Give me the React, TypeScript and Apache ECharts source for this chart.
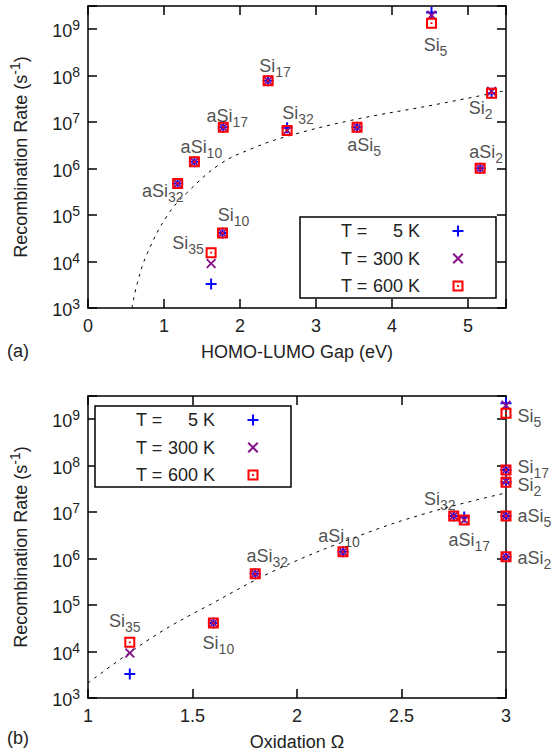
import React, { useEffect, useRef } from 'react';
import * as echarts from 'echarts';

// ---------- data ----------
const temps = ['T = 5 K', 'T = 300 K', 'T = 600 K'];

// (a) Recombination rate vs HOMO-LUMO gap
const gapNames = ['Si35', 'Si10', 'aSi32', 'aSi10', 'aSi17', 'Si17', 'Si32', 'aSi5', 'Si5', 'aSi2', 'Si2'];
const gapValues = [1.62, 1.77, 1.18, 1.40, 1.78, 2.37, 2.62, 3.54, 4.52, 5.16, 5.31];
const gapRate5K = [3.3e3, 4.1e4, 4.8e5, 1.4e6, 7.8e6, 7.8e7, 7.6e6, 7.8e6, 2.3e9, 1.02e6, 4.2e7];
const gapRate300K = [9.1e3, 4.1e4, 4.8e5, 1.4e6, 7.8e6, 7.8e7, 6.6e6, 7.8e6, 2.0e9, 1.02e6, 4.6e7];
const gapRate600K = [1.55e4, 4.1e4, 4.8e5, 1.4e6, 7.8e6, 7.8e7, 6.6e6, 7.8e6, 1.35e9, 1.02e6, 4.2e7];
const gapFitX = [0.578, 0.65, 0.78, 1.043, 1.30, 1.74, 2.17, 2.61, 3.47, 4.55, 5.5];
const gapFitRate = [1.0e3, 3.5e3, 1.5e4, 9.8e4, 3.0e5, 1.26e6, 2.75e6, 4.9e6, 1.1e7, 2.35e7, 4.8e7];

// (b) Recombination rate vs oxidation
const oxNames = ['Si35', 'Si10', 'aSi32', 'aSi10', 'Si32', 'aSi17', 'Si5', 'Si17', 'Si2', 'aSi5', 'aSi2'];
const oxValues = [1.2, 1.6, 1.8, 2.22, 2.75, 2.8, 3.0, 3.0, 3.0, 3.0, 3.0];
const oxRate5K = [3.3e3, 4.1e4, 4.7e5, 1.4e6, 8.3e6, 7.9e6, 2.2e9, 8.1e7, 4.4e7, 8.3e6, 1.1e6];
const oxRate300K = [9.3e3, 4.1e4, 4.7e5, 1.4e6, 8.3e6, 6.8e6, 2.0e9, 8.1e7, 4.6e7, 8.3e6, 1.1e6];
const oxRate600K = [1.58e4, 4.1e4, 4.7e5, 1.4e6, 8.3e6, 6.8e6, 1.35e9, 8.1e7, 4.4e7, 8.3e6, 1.1e6];
const oxFitX = [1.0, 1.313, 1.6, 1.91, 2.305, 2.62, 3.0];
const oxFitRate = [2.1e3, 2.1e4, 1.12e5, 6.0e5, 3.2e6, 9.5e6, 2.6e7];

// ---------- label layout (styling, offsets in px) ----------
const gapLabelOffsets: Record<string, number[]> = {
  Si35: [-23, -8], Si10: [11, -16], aSi32: [-15, 10], aSi10: [7, -13], aSi17: [4, -9],
  Si17: [7, -13], Si32: [11, -16], aSi5: [7, 20], Si5: [4, 24], aSi2: [6, -14], Si2: [-11, 17],
};
const oxLabelOffsets: Record<string, number[]> = {
  Si35: [-5, -19], Si10: [5, 22], aSi32: [12, -16], aSi10: [-4, -14], Si32: [-14, -15], aSi17: [5, 22],
};
const oxRightLabelDy: Record<string, number> = { Si5: 5, Si17: -1, Si2: 5, aSi5: 2, aSi2: 3 };

const FONT = 'Liberation Sans';
const TXT = '#222';

const plusPath = 'path://M4.1,0 H5.9 V4.1 H10 V5.9 H5.9 V10 H4.1 V5.9 H0 V4.1 H4.1 Z';
const crossPath = 'path://M0,1.3 L1.3,0 L5,3.7 L8.7,0 L10,1.3 L6.3,5 L10,8.7 L8.7,10 L5,6.3 L1.3,10 L0,8.7 L3.7,5 Z';
const squarePath = 'path://M0,0 H12 V12 H0 Z M2.2,2.2 V9.8 H9.8 V2.2 Z M5,5 H7 V7 H5 Z';

const subRich = {
  b: { fontSize: 18, fontFamily: FONT, color: TXT, verticalAlign: 'top' },
  s: { fontSize: 14, fontFamily: FONT, color: TXT, verticalAlign: 'bottom' },
};
const supRich = {
  b: { fontSize: 18, fontFamily: FONT, color: TXT, verticalAlign: 'bottom' },
  p: { fontSize: 14, fontFamily: FONT, color: TXT, verticalAlign: 'top' },
};

function labelText(name: string) {
  const m = name.match(/^([a-zA-Z]+)(\d+)$/);
  if (!m) return `{b|${name}}`;
  return `{b|${m[1]}}{s|${m[2]}}`;
}

function markerSeries(name: string, xs: number[], rates: number[], symbol: string, size: number, color: string, ai: number, z: number) {
  return {
    type: 'scatter',
    name,
    xAxisIndex: ai,
    yAxisIndex: ai,
    symbol,
    symbolSize: size,
    itemStyle: { color, opacity: 1 },
    z,
    data: xs.map((x, i) => [x, Math.log10(rates[i])]),
  };
}

function fitSeries(xs: number[], rates: number[], ai: number) {
  return {
    type: 'line',
    xAxisIndex: ai,
    yAxisIndex: ai,
    symbol: 'none',
    smooth: 0.4,
    silent: true,
    lineStyle: { color: '#000', width: 1, type: [3, 5] },
    data: xs.map((x, i) => [x, Math.log10(rates[i])]),
    z: 1,
  };
}

function labelSeries(names: string[], xs: number[], rates: number[], ai: number, place: (n: string) => any) {
  return {
    type: 'scatter',
    xAxisIndex: ai,
    yAxisIndex: ai,
    symbolSize: 1,
    silent: true,
    itemStyle: { color: 'rgba(0,0,0,0)' },
    z: 5,
    data: names.map((n, i) => ({
      value: [xs[i], Math.log10(rates[i])],
      label: {
        show: true,
        formatter: labelText(n),
        lineHeight: 22,
        rich: subRich,
        ...place(n),
      },
    })),
  };
}

function xAxes(gridIndex: number, min: number, max: number, interval: number, name: string) {
  const line = { show: true, onZero: false, lineStyle: { color: '#000', width: 1.5 } };
  const tick = { show: true, inside: true, length: 9, lineStyle: { color: '#000', width: 1.5 } };
  return [
    {
      type: 'value', gridIndex, position: 'bottom', min, max, interval,
      axisLine: line, axisTick: tick, splitLine: { show: false },
      axisLabel: {
        margin: 9, fontSize: 18, fontFamily: FONT, color: TXT, showMaxLabel: true,
        formatter: (v: number) => (Math.abs(v / interval - Math.round(v / interval)) < 1e-6 ? String(v) : ''),
      },
      name, nameLocation: 'middle', nameGap: 35,
      nameTextStyle: { fontSize: 18, fontFamily: FONT, color: TXT },
    },
    {
      type: 'value', gridIndex, position: 'top', min, max, interval,
      axisLine: line, axisTick: tick, splitLine: { show: false }, axisLabel: { show: false },
    },
  ];
}

function yAxes(gridIndex: number) {
  const line = { show: true, onZero: false, lineStyle: { color: '#000', width: 1.5 } };
  const tick = { show: true, inside: true, length: 9, lineStyle: { color: '#000', width: 1.5 } };
  return [
    {
      type: 'value', gridIndex, position: 'left', min: 3, max: 9.5, interval: 1,
      axisLine: line, axisTick: tick, splitLine: { show: false },
      axisLabel: {
        margin: 8, lineHeight: 22, rich: supRich,
        formatter: (v: number) => (Math.abs(v - Math.round(v)) < 1e-6 ? `{b|10}{p|${Math.round(v)}}` : ''),
      },
      name: '{b|Recombination Rate (s}{p|-1}{b|)}',
      nameLocation: 'middle', nameGap: 58,
      nameTextStyle: { lineHeight: 22, rich: supRich },
    },
    {
      type: 'value', gridIndex, position: 'right', min: 3, max: 9.5, interval: 1,
      axisLine: line, axisTick: tick, splitLine: { show: false }, axisLabel: { show: false },
    },
  ];
}

function legendAt(left: number, top: number) {
  return {
    data: temps,
    left, top,
    orient: 'vertical',
    align: 'right',
    itemWidth: 11,
    itemHeight: 11,
    itemGap: 7.5,
    padding: [4, 32.5, 2, 41],
    borderColor: '#000',
    borderWidth: 1.5,
    borderRadius: 0,
    backgroundColor: '#fff',
    selectedMode: false,
    formatter: (n: string) => `{a|T =}{b|${n.slice(4)}}{c|}`,
    textStyle: {
      fontSize: 18, fontFamily: FONT, color: TXT, lineHeight: 20,
      rich: {
        a: { fontSize: 18, fontFamily: FONT, color: TXT, width: 28, align: 'left' },
        b: { fontSize: 18, fontFamily: FONT, color: TXT, width: 51, align: 'right' },
        c: { fontSize: 18, fontFamily: FONT, width: 27.5 },
      },
    },
    z: 10,
  };
}

export default function App() {
  const ref = useRef<HTMLDivElement>(null);
  useEffect(() => {
    if (!ref.current) return;
    const chart = echarts.init(ref.current, undefined, { renderer: 'svg' });
    const option: any = {
      animation: false,
      backgroundColor: '#fff',
      textStyle: { fontFamily: FONT },
      grid: [
        { left: 84, top: 6, width: 422, height: 302 },
        { left: 84, top: 396, width: 422, height: 302 },
      ],
      xAxis: [
        ...xAxes(0, 0, 5.5, 1, 'HOMO-LUMO Gap (eV)'),
        ...xAxes(1, 1, 3, 0.5, 'Oxidation Ω'),
      ],
      yAxis: [...yAxes(0), ...yAxes(1)],
      legend: [legendAt(300, 217), legendAt(95, 406)],
      series: [
        fitSeries(gapFitX, gapFitRate, 0),
        markerSeries(temps[0], gapValues, gapRate5K, plusPath, 11, '#0a0aff', 0, 2),
        markerSeries(temps[1], gapValues, gapRate300K, crossPath, 10, '#86108a', 0, 3),
        markerSeries(temps[2], gapValues, gapRate600K, squarePath, 11, '#ff0000', 0, 4),
        labelSeries(gapNames, gapValues, gapRate600K, 0, (n) => ({ position: 'inside', offset: gapLabelOffsets[n] })),
        fitSeries(oxFitX, oxFitRate, 2),
        markerSeries(temps[0], oxValues, oxRate5K, plusPath, 11, '#0a0aff', 2, 2),
        markerSeries(temps[1], oxValues, oxRate300K, crossPath, 10, '#86108a', 2, 3),
        markerSeries(temps[2], oxValues, oxRate600K, squarePath, 11, '#ff0000', 2, 4),
        labelSeries(oxNames, oxValues, oxRate600K, 2, (n) =>
          oxLabelOffsets[n]
            ? { position: 'inside', offset: oxLabelOffsets[n] }
            : { position: 'right', distance: 11, offset: [0, oxRightLabelDy[n] || 0] }
        ),
      ],
      graphic: [
        { type: 'text', left: 7, top: 342, style: { text: '(a)', fontSize: 18, fontFamily: FONT, fill: TXT } },
        { type: 'text', left: 7, top: 729, style: { text: '(b)', fontSize: 18, fontFamily: FONT, fill: TXT } },
      ],
    };
    chart.setOption(option);
    return () => chart.dispose();
  }, []);
  return <div ref={ref} style={{ position: 'absolute', left: 0, top: 0, width: 552, height: 756 }} />;
}
